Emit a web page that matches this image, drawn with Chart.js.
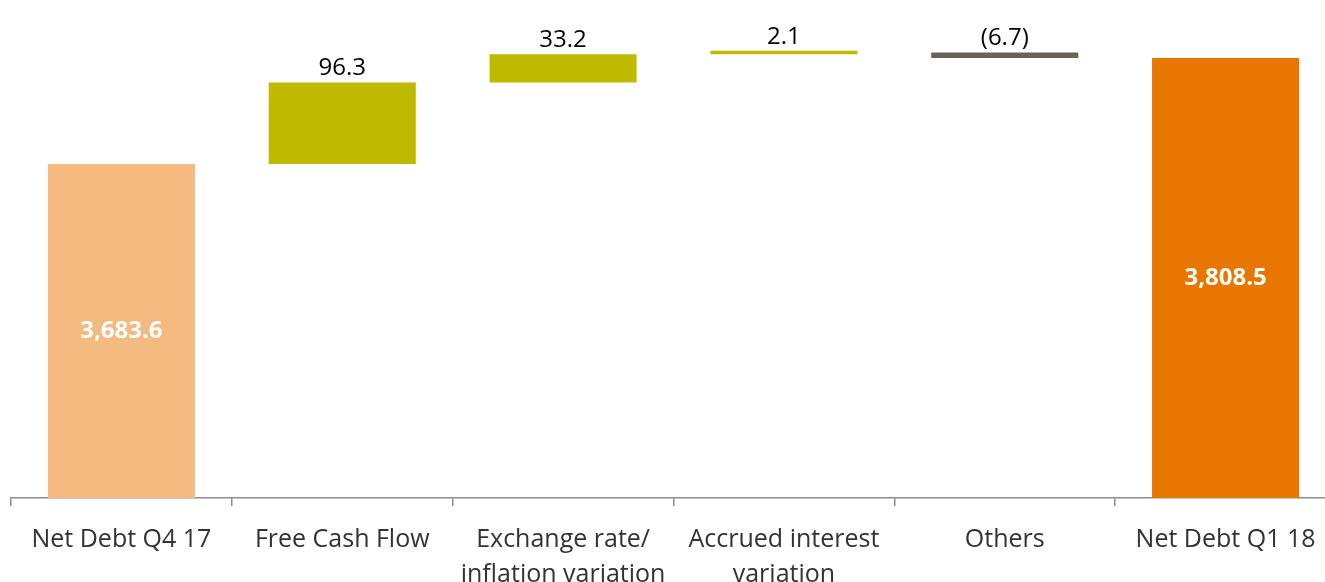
<!DOCTYPE html>
<html>
<head>
<meta charset="utf-8">
<title>Net Debt bridge</title>
<script src="https://cdn.jsdelivr.net/npm/chart.js@4.4.0/dist/chart.umd.min.js"></script>
<style>
  html, body { margin: 0; padding: 0; background: #fff; overflow: hidden; }
</style>
</head>
<body>
<canvas id="bridgeChart" width="1336" height="596"></canvas>
<script>
// data
const categories = [
  ['Net Debt Q4 17'],
  ['Free Cash Flow'],
  ['Exchange rate/', 'inflation variation'],
  ['Accrued interest', 'variation'],
  ['Others'],
  ['Net Debt Q1 18']
];
const steps    = [3683.6, 96.3, 33.2, 2.1, -6.7, 3808.5];
const stepKind = ['total', 'change', 'change', 'change', 'change', 'total'];
const axisMin  = 3290;
const axisMax  = 3877;

// colours
const barColors = ['#F4BA80', '#BFB900', '#BFB900', '#BFB900', '#6B6259', '#E97600'];

// floating bars for the waterfall
let running = 0;
const ranges = steps.map(function (v, i) {
  if (stepKind[i] === 'total') {
    running = v;
    return [axisMin, v];
  }
  const start = running;
  running = running + v;
  return [start, running];
});

const fmt = function (v, i) {
  if (stepKind[i] === 'total') {
    return v.toLocaleString('en-US', { minimumFractionDigits: 1, maximumFractionDigits: 1 });
  }
  const s = Math.abs(v).toFixed(1);
  return v < 0 ? '(' + s + ')' : s;
};

const valueLabels = {
  id: 'valueLabels',
  afterDatasetsDraw(chart) {
    const ctx = chart.ctx;
    const area = chart.chartArea;
    const meta = chart.getDatasetMeta(0);
    ctx.save();
    ctx.textAlign = 'center';
    meta.data.forEach(function (bar, i) {
      const top = Math.min(bar.y, bar.base);
      const text = fmt(steps[i], i);
      if (stepKind[i] === 'total') {
        ctx.font = 'bold 24px "Open Sans"';
        ctx.fillStyle = '#ffffff';
        ctx.textBaseline = 'middle';
        ctx.fillText(text, bar.x, (top + area.bottom) / 2);
      } else {
        ctx.font = '24px "Open Sans"';
        ctx.fillStyle = '#000000';
        ctx.textBaseline = 'bottom';
        ctx.fillText(text, bar.x, top - 2);
      }
    });
    ctx.restore();
  }
};

const ctx1 = document.getElementById('bridgeChart').getContext('2d');
const bridgeChart = new Chart(ctx1, {
  type: 'bar',
  data: {
    labels: categories,
    datasets: [{
      data: ranges,
      backgroundColor: barColors,
      borderWidth: 0,
      barPercentage: 0.666,
      categoryPercentage: 1,
      minBarLength: 3.5
    }]
  },
  options: {
    responsive: false,
    animation: false,
    layout: { padding: { left: 11, right: 0, top: 0, bottom: 0 } },
    plugins: {
      legend: { display: false },
      tooltip: { enabled: false }
    },
    scales: {
      x: {
        grid: {
          display: true,
          drawOnChartArea: false,
          drawTicks: true,
          tickLength: 8,
          color: '#8c8c8c',
          lineWidth: 1.5,
          offset: true
        },
        border: { display: true, color: '#8c8c8c', width: 1.5 },
        ticks: {
          color: '#333333',
          font: { family: 'Open Sans', size: 25, lineHeight: 1.4 },
          padding: 16,
          maxRotation: 0,
          autoSkip: false
        },
        afterFit: function (scale) { scale.height = 98; }
      },
      y: {
        display: false,
        min: axisMin,
        max: axisMax
      }
    }
  },
  plugins: [valueLabels]
});
</script>
</body>
</html>
